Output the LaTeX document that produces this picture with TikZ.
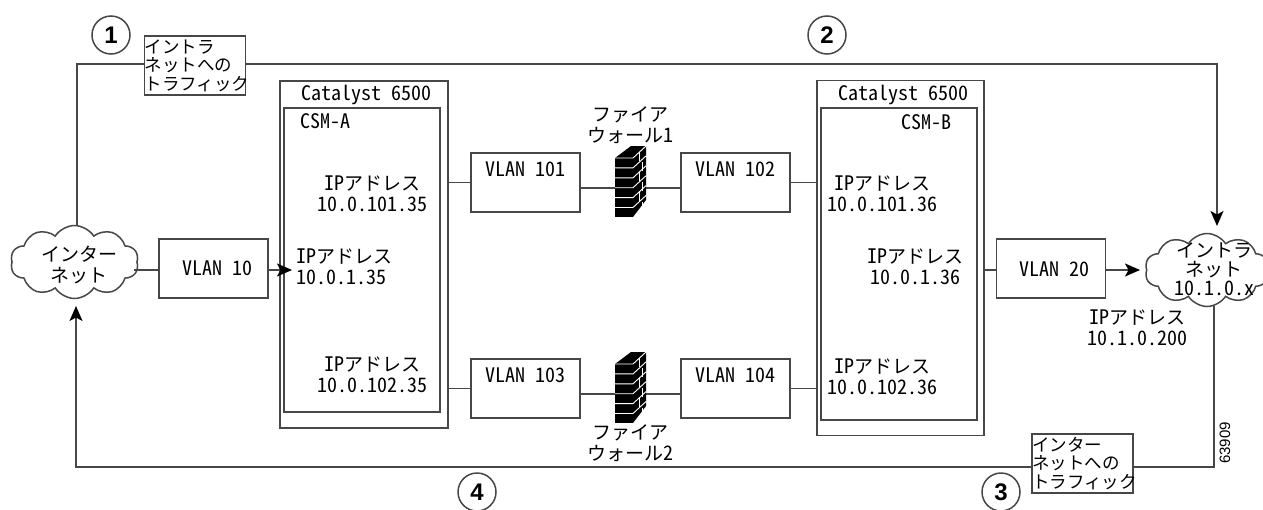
\documentclass[tikz,border=0pt]{standalone}
\usepackage{fontspec}
\setmainfont{Noto Sans CJK JP}
\newfontfamily\latbase[RawFeature=+hwid]{Noto Sans CJK JP}
\newfontfamily\arial{Liberation Sans}
\usetikzlibrary{arrows.meta, shapes.symbols, calc}
\newcommand{\lat}{\latbase\fontsize{20}{21}\selectfont}
\newcommand{\ipaddr}[1]{{\lat IP}アドレス\\{\lat #1}}
\tikzset{
    line/.style={line width=1.5pt, draw=black!72},
    arrowline/.style={line, -{Stealth[length=15pt, width=13pt, inset=3.5pt, black]}},
    box/.style={line, inner sep=0pt, minimum width=109pt, minimum height=59pt},
    csmbox/.style={line, inner sep=0pt},
    wan/.style={line, cloud, cloud puffs=10, cloud puff arc=115, inner sep=0pt, fill=white},
    lbl/.style={inner sep=0pt, align=center, font=\fontsize{19}{21}\selectfont},
    latlbl/.style={lbl, font=\lat},
    note/.style={line, fill=white, inner sep=0pt, align=left, text width=101pt, minimum height=59pt, font=\fontsize{17.5}{18.5}\selectfont},
    step mark/.style={line, circle, minimum size=38pt, inner sep=0pt, font=\arial\bfseries\fontsize{24}{24}\selectfont},
    firewall/.pic={
        \fill[black] (0,0) -- (18,0) -- (31,-12) -- (16,-12) -- cycle;
        \fill[black] (0,0) rectangle (18,59);
        \fill[black] (18,0) -- (31,-12) -- (31,42) -- (18,59) -- cycle;
        \foreach \row in {0,...,5} {
            \draw[white, line width=0.9pt] (0,{\row*9.9}) -- (18,{\row*9.9}) -- (31,{\row*9.9-12});
        }
        \foreach \row in {0,2,4} {
            \draw[white, line width=0.9pt] (24,{\row*9.9-6}) -- (24,{\row*9.9+3});
            \draw[white, line width=0.9pt] (27,{\row*9.9+4}) -- (27,{\row*9.9+13});
        }
    },
}
\begin{document}
\begin{tikzpicture}[x=1pt, y=-1pt]
    \useasboundingbox (0,0) rectangle (1263,509);
    % Catalyst chassis and CSM modules
    \node[csmbox, minimum width=168pt, minimum height=347pt] (cataA) at (364,254.5) {};
    \node[csmbox, minimum width=156pt, minimum height=304pt] (csmA) at (362,260) {};
    \node[csmbox, minimum width=167pt, minimum height=355pt] (cataB) at (900.5,258) {};
    \node[csmbox, minimum width=156pt, minimum height=312pt] (csmB) at (899,264) {};
    \node[latlbl] (cataAlbl) at (366,95) {Catalyst 6500};
    \node[latlbl] (cataBlbl) at (903,95) {Catalyst 6500};
    \node[latlbl] (csmAlbl) at (325,121) {CSM-A};
    \node[latlbl] (csmBlbl) at (926,122) {CSM-B};
    % Clouds
    \node[wan, minimum width=128pt, minimum height=73pt] (inet) at (74.5,262) {};
    \node[wan, minimum width=124pt, minimum height=73pt] (intra) at (1207,270) {};
    \node[lbl] (inetlbl) at (79,265) {インター\\ネット};
    \node[lbl, font=\fontsize{19}{19}\selectfont] (intralbl) at (1214,269) {イントラ\\ネット\\{\lat 10.1.0.x}};
    % VLAN boxes
    \node[box] (vlan10) at (213.5,268.5) {};
    \node[box] (vlan20) at (1051,268.5) {};
    \node[box] (vlan101) at (525.5,182.5) {};
    \node[box] (vlan102) at (735.5,182.5) {};
    \node[box] (vlan103) at (525.5,388.5) {};
    \node[box] (vlan104) at (735.5,388.5) {};
    \node[latlbl] (vlan10lbl) at (217,268) {VLAN 10};
    \node[latlbl] (vlan20lbl) at (1054,269) {VLAN 20};
    \node[latlbl] (vlan101lbl) at (525,169) {VLAN 101};
    \node[latlbl] (vlan102lbl) at (735,169) {VLAN 102};
    \node[latlbl] (vlan103lbl) at (525,375) {VLAN 103};
    \node[latlbl] (vlan104lbl) at (735,375) {VLAN 104};
    % Firewalls
    \coordinate (fwOne) at (630,188);
    \coordinate (fwTwo) at (630,394);
    \draw[line] (vlan101.east |- fwOne) -- (vlan102.west |- fwOne);
    \draw[line] (vlan103.east |- fwTwo) -- (vlan104.west |- fwTwo);
    \pic at (615,158) {firewall};
    \pic at (615,364) {firewall};
    \node[lbl] (fwOnelbl) at (630,125) {ファイア\\ウォール{\lat 1}};
    \node[lbl] (fwTwolbl) at (630,443) {ファイア\\ウォール{\lat 2}};
    % Addresses
    \node[lbl] (ipA) at (372.5,194) {\ipaddr{10.0.101.35}};
    \node[lbl, align=left] (ipB) at (344,267) {\ipaddr{10.0.1.35}};
    \node[lbl] (ipC) at (372.5,375) {\ipaddr{10.0.102.35}};
    \node[lbl] (ipD) at (882.5,194) {\ipaddr{10.0.101.36}};
    \node[lbl] (ipE) at (915,267) {\ipaddr{10.0.1.36}};
    \node[lbl] (ipF) at (882.5,377) {\ipaddr{10.0.102.36}};
    \node[lbl] (ipG) at (1137.5,328) {\ipaddr{10.1.0.200}};
    % Links between boxes
    \draw[line] (cataA.east |- vlan101.west) -- (vlan101.west);
    \draw[line] (vlan102.east) -- ++(25,0);
    \draw[line] (cataA.east |- vlan103.west) -- (vlan103.west);
    \draw[line] (vlan104.east) -- ++(25,0);
    \coordinate (inetlink) at (134,270);
    \draw[line] (inetlink) -- (vlan10.west |- inetlink);
    \coordinate (ipBtip) at (292,270);
    \draw[arrowline] (vlan10.east |- ipBtip) -- (ipBtip);
    \coordinate (vlan20link) at (996,270);
    \draw[line] (cataB.east |- vlan20link) -- (vlan20link);
    \coordinate (intratip) at (1140,270);
    \draw[arrowline] (vlan20.east |- intratip) -- (intratip);
    % Traffic loops
    \node[note] (toIntra) at (195,65.5) {イントラ\\ネットへの\\トラフィック};
    \node[note] (toInet) at (1082.5,463.5) {インター\\ネットへの\\トラフィック};
    \coordinate (cornerNW) at (77,64);
    \coordinate (cornerNE) at (1217,64);
    \coordinate (intraTop) at (1217,226);
    \coordinate (cornerSE) at (1214,467);
    \coordinate (cornerSW) at (76,467);
    \coordinate (inetBot) at (76,306);
    \draw[line] (77,226) -- (cornerNW) -- (toIntra.west |- cornerNW);
    \draw[arrowline] (toIntra.east |- cornerNE) -- (cornerNE) -- (intraTop);
    \draw[line] (1214,306) -- (cornerSE) -- (toInet.east |- cornerSE);
    \draw[arrowline] (toInet.west |- cornerSW) -- (cornerSW) -- (inetBot);
    % Step numbers
    \node[step mark] (stepA) at (111,35) {1};
    \node[step mark] (stepB) at (827,35) {2};
    \node[step mark] (stepC) at (1001,492) {3};
    \node[step mark] (stepD) at (477,492) {4};
    \node[rotate=90, inner sep=0pt, font=\arial\fontsize{15}{15}\selectfont] (figno) at (1225,443) {63909};
\end{tikzpicture}
\end{document}
